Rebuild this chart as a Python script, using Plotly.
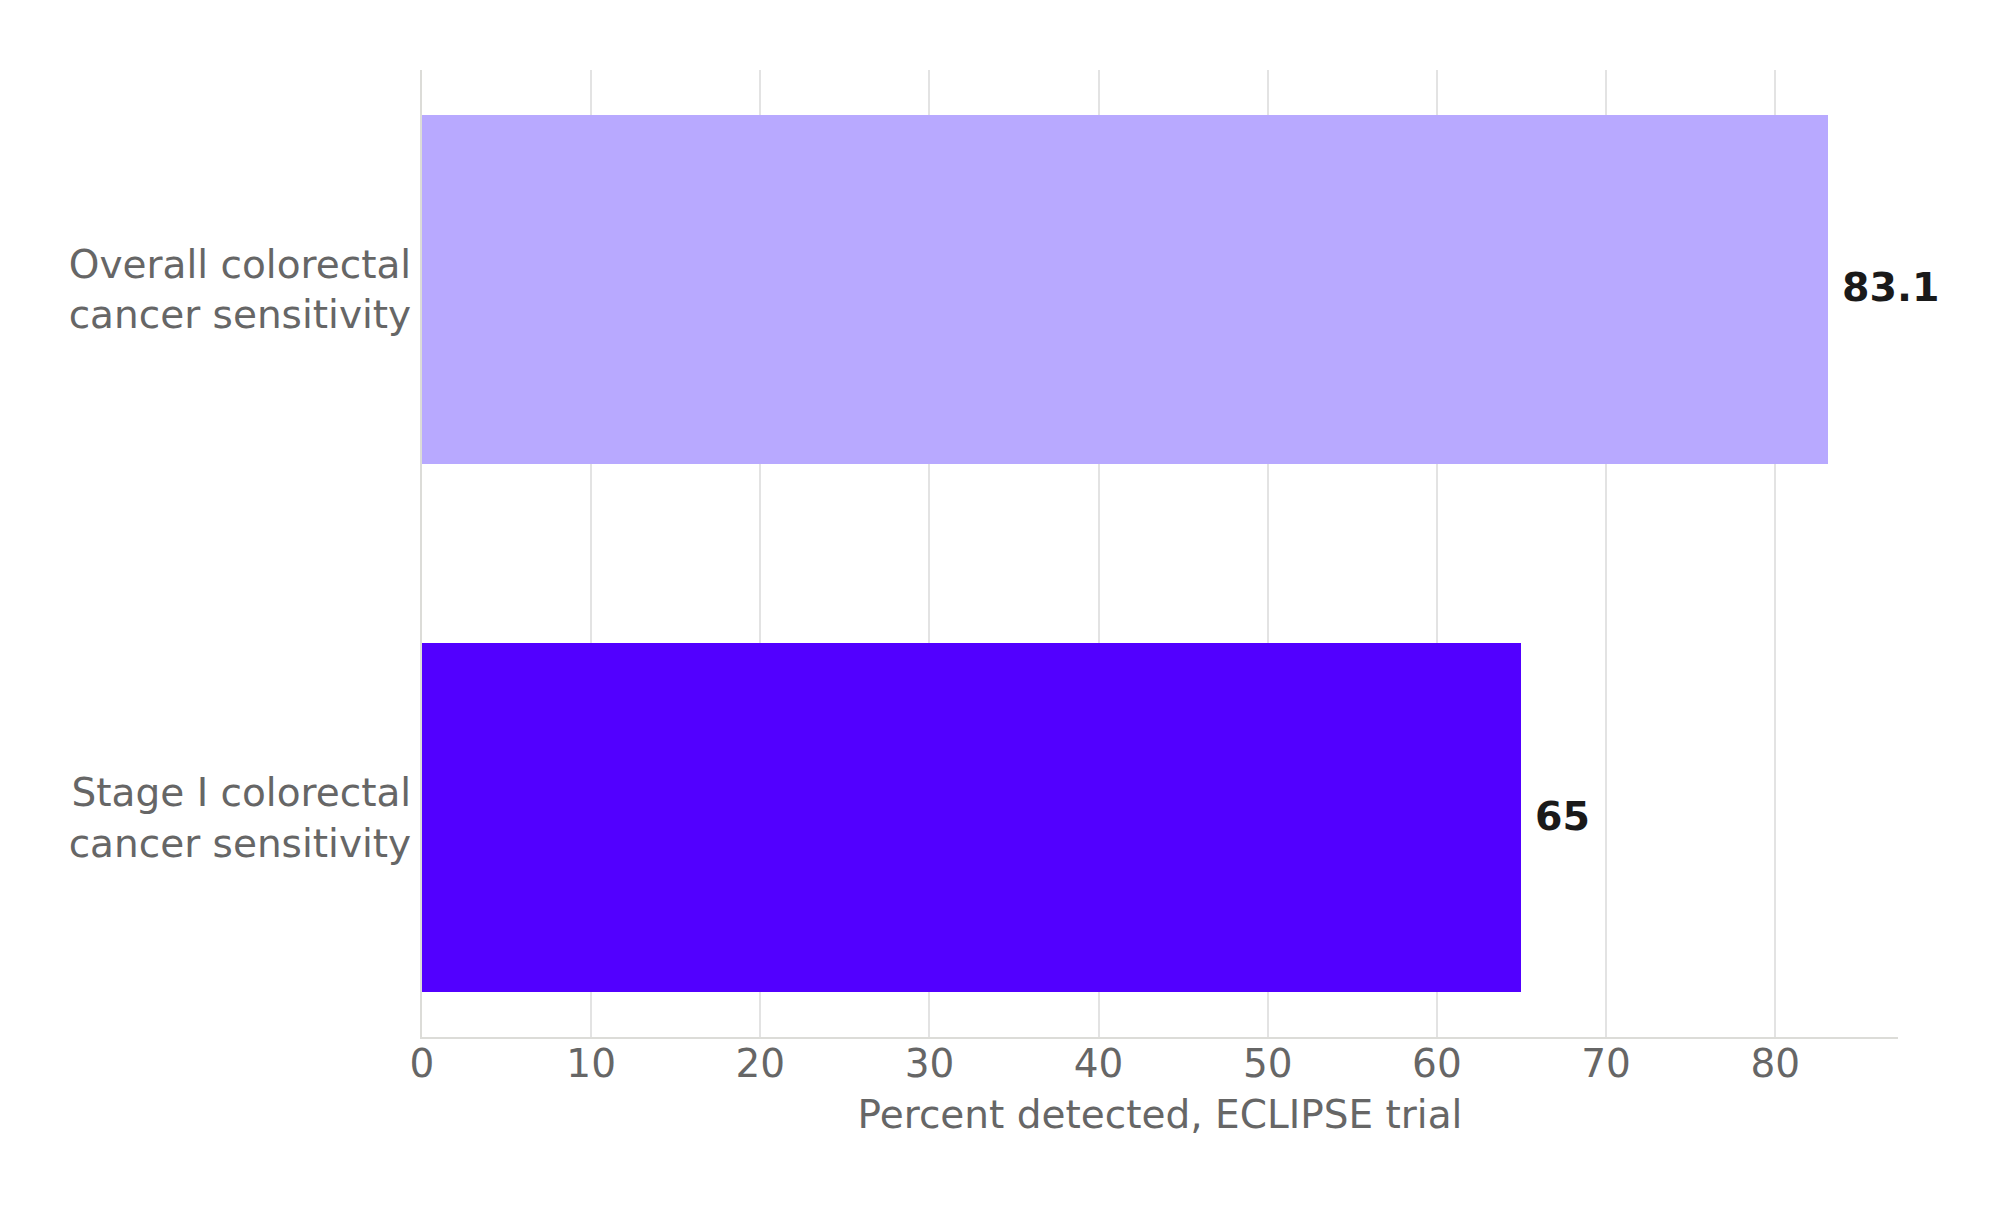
import plotly.graph_objects as go

categories = ["Stage I colorectal<br>cancer sensitivity", "Overall colorectal<br>cancer sensitivity"]
values = [65, 83.1]
value_labels = ["65", "83.1"]
bar_colors = ["#5200ff", "#b8a9ff"]
x_ticks = [0, 10, 20, 30, 40, 50, 60, 70, 80]
x_title = "Percent detected, ECLIPSE trial"

FONT = "DejaVu Sans"
FS = 39

fig = go.Figure()
fig.add_trace(go.Bar(
    x=values, y=categories, orientation="h",
    marker=dict(color=bar_colors, line=dict(width=0)),
    width=0.66, hoverinfo="skip",
))

for cat, v, lab in zip(categories, values, value_labels):
    fig.add_annotation(
        x=v, y=cat, text="<b>" + lab + "</b>", showarrow=False,
        xanchor="left", yanchor="middle", xshift=12, yshift=2,
        font=dict(family=FONT, size=39.5, color="#1a1a1a"),
    )

fig.update_layout(
    width=2007, height=1206,
    margin=dict(l=422, r=109, t=70, b=169),
    paper_bgcolor="white", plot_bgcolor="white",
    showlegend=False,
    font=dict(family=FONT, size=FS, color="#666666"),
    bargap=0,
)

fig.update_xaxes(
    range=[0, 87.26], tickvals=x_ticks, ticktext=[str(t) for t in x_ticks],
    showgrid=True, gridcolor="#e3e3e3", gridwidth=1.5,
    showline=True, linecolor="#dcdcd8", linewidth=2,
    zeroline=False, ticks="", ticklabelstandoff=-9,
    tickfont=dict(family=FONT, size=FS, color="#666666"),
    title=dict(text=x_title, font=dict(family=FONT, size=FS, color="#666666"), standoff=16),
)
fig.update_yaxes(
    type="category", categoryorder="array", categoryarray=categories,
    range=[-0.415, 1.415],
    showgrid=False, showline=True, linecolor="#dcdcd8", linewidth=2,
    zeroline=False, ticks="", ticklabelstandoff=1,
    tickfont=dict(family=FONT, size=FS, color="#666666"),
)

fig.write_html("out.html")
